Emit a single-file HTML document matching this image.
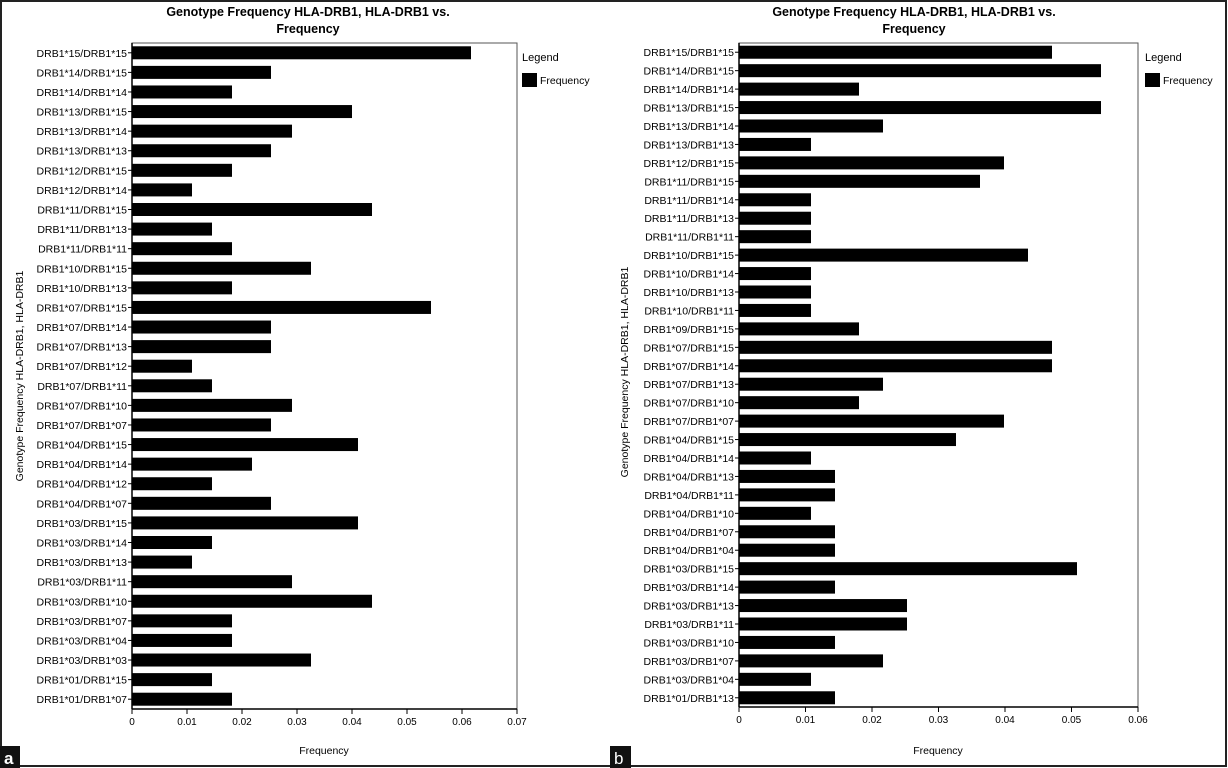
<!DOCTYPE html>
<html><head><meta charset="utf-8"><style>
html,body{margin:0;padding:0;background:#fff}
svg{display:block;font-family:"Liberation Sans",Arial,sans-serif}
</style></head><body>
<svg id="s" width="1228" height="768" viewBox="0 0 1228 768" xmlns="http://www.w3.org/2000/svg">
<rect x="0" y="0" width="1228" height="768" fill="#fff"/>
<rect x="1" y="1" width="1225" height="765" fill="none" stroke="#222" stroke-width="2"/>
<text x="308" y="16" font-size="12.5" font-weight="bold" text-anchor="middle">Genotype Frequency HLA-DRB1, HLA-DRB1 vs.</text>
<text x="308" y="33" font-size="12.5" font-weight="bold" text-anchor="middle">Frequency</text>
<text x="914" y="16" font-size="12.5" font-weight="bold" text-anchor="middle">Genotype Frequency HLA-DRB1, HLA-DRB1 vs.</text>
<text x="914" y="33" font-size="12.5" font-weight="bold" text-anchor="middle">Frequency</text>
<text transform="translate(23,376) rotate(-90)" font-size="10.5" text-anchor="middle">Genotype Frequency HLA-DRB1, HLA-DRB1</text>
<text transform="translate(628,372) rotate(-90)" font-size="10.5" text-anchor="middle">Genotype Frequency HLA-DRB1, HLA-DRB1</text>
<text x="324" y="754" font-size="10.5" text-anchor="middle">Frequency</text>
<text x="938" y="754" font-size="10.5" text-anchor="middle">Frequency</text>
<text x="522" y="61" font-size="11">Legend</text>
<rect x="522" y="73" width="15" height="14" fill="#000"/>
<text x="540" y="84" font-size="10.5">Frequency</text>
<text x="1145" y="61" font-size="11">Legend</text>
<rect x="1145" y="73" width="15" height="14" fill="#000"/>
<text x="1163" y="84" font-size="10.5">Frequency</text>
<rect x="0" y="746" width="20" height="22" fill="#111"/>
<text x="4" y="764" font-size="17" fill="#fff" font-weight="bold">a</text>
<rect x="610" y="746" width="21" height="22" fill="#111"/>
<text x="614" y="764" font-size="17" fill="#fff">b</text>
<g id="g"></g>
</svg>
<script>
var NS="http://www.w3.org/2000/svg",g=document.getElementById("g");
function el(t,a,txt){var e=document.createElementNS(NS,t);for(var k in a)e.setAttribute(k,a[k]);if(txt!=null)e.textContent=txt;g.appendChild(e);return e;}
function panel(x0,x1,top,bot,labels,ends,ticks,step){
  el("rect",{x:x0,y:top,width:x1-x0,height:bot-top,fill:"none",stroke:"#555","stroke-width":1});
  el("line",{x1:x0,y1:top,x2:x0,y2:bot,stroke:"#000","stroke-width":1.5});
  el("line",{x1:x0,y1:bot,x2:x1,y2:bot,stroke:"#000","stroke-width":1.5});
  var n=labels.length,h=(bot-top)/n;
  for(var i=0;i<n;i++){var cy=top+h*(i+0.5);
    el("rect",{x:x0,y:cy-6.5,width:ends[i]-x0,height:13,fill:"#000"});
    el("line",{x1:x0-4,y1:cy,x2:x0,y2:cy,stroke:"#000"});
    el("text",{x:x0-5,y:cy+4,"font-size":10.5,"text-anchor":"end"},labels[i]);}
  for(var j=0;j<ticks.length;j++){var x=x0+(x1-x0)*j/(ticks.length-1);
    el("line",{x1:x,y1:bot,x2:x,y2:bot+5,stroke:"#000"});
    el("text",{x:x,y:bot+16,"font-size":10,"text-anchor":"middle"},ticks[j]);}
}
var la=["15/15","14/15","14/14","13/15","13/14","13/13","12/15","12/14","11/15","11/13","11/11","10/15","10/13","07/15","07/14","07/13","07/12","07/11","07/10","07/07","04/15","04/14","04/12","04/07","03/15","03/14","03/13","03/11","03/10","03/07","03/04","03/03","01/15","01/07"];
var ea=[471,271,232,352,292,271,232,192,372,212,232,311,232,431,271,271,192,212,292,271,358,252,212,271,358,212,192,292,372,232,232,311,212,232];
var lb=["15/15","14/15","14/14","13/15","13/14","13/13","12/15","11/15","11/14","11/13","11/11","10/15","10/14","10/13","10/11","09/15","07/15","07/14","07/13","07/10","07/07","04/15","04/14","04/13","04/11","04/10","04/07","04/04","03/15","03/14","03/13","03/11","03/10","03/07","03/04","01/13"];
var eb=[1052,1101,859,1101,883,811,1004,980,811,811,811,1028,811,811,811,859,1052,1052,883,859,1004,956,811,835,835,811,835,835,1077,835,907,907,835,883,811,835];
function f(a){return a.map(function(s){var p=s.split("/");return "DRB1*"+p[0]+"/DRB1*"+p[1];});}
panel(132,517,43,709,f(la),ea,["0","0.01","0.02","0.03","0.04","0.05","0.06","0.07"]);
panel(739,1138,43,707,f(lb),eb,["0","0.01","0.02","0.03","0.04","0.05","0.06"]);
</script>
</body></html>
